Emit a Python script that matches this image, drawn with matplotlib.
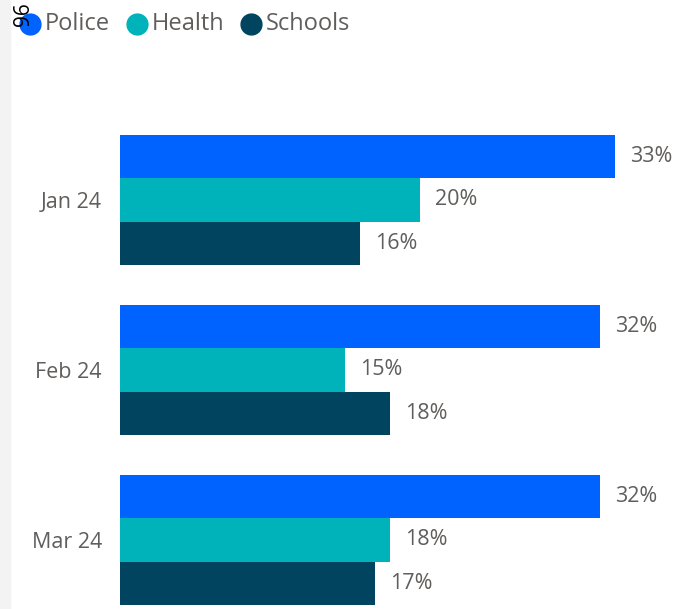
import matplotlib
matplotlib.use("Agg")
import matplotlib.pyplot as plt
import numpy as np
from matplotlib.patches import Rectangle
from matplotlib.lines import Line2D

months = ["Jan 24", "Feb 24", "Mar 24"]
series = ["Police", "Health", "Schools"]
police = [33, 32, 32]
health = [20, 15, 18]
schools = [16, 18, 17]
colors = ["#0062ff", "#00b2b9", "#00445f"]

plt.rcParams["font.family"] = ["Open Sans", "DejaVu Sans"]
text_color = "#605e5c"

W, H = 689, 609
fig = plt.figure(figsize=(W / 100, H / 100), dpi=100)

# light shadow strip on the left edge
fig.add_artist(Rectangle((0, 0), 10 / W, 1, transform=fig.transFigure,
                         color="#f3f3f3", zorder=0))

ax = fig.add_axes([120 / W, 0, 560 / W, 509 / H])
ax.set_xlim(0, 560 / 15)
ax.set_ylim(2.406, -0.588)

bar_h = 0.255
y = np.arange(len(months))
for i, (vals, c) in enumerate(zip([police, health, schools], colors)):
    ypos = y + (i - 1) * bar_h
    ax.barh(ypos, vals, height=bar_h, color=c)
    for yy, v in zip(ypos, vals):
        ax.annotate(f"{v}%", (v, yy), xytext=(11, 0), textcoords="offset points",
                    va="center", ha="left", fontsize=15.5, color=text_color)

ax.set_yticks(y)
ax.set_yticklabels(months, fontsize=15.5, color=text_color)
ax.tick_params(axis="y", length=0, pad=13)
ax.set_xticks([])
for s in ax.spines.values():
    s.set_visible(False)

# legend row
leg_y = 1 - 24 / H
for x_dot, name, c in zip([30, 137, 251], series, colors):
    fig.add_artist(Line2D([x_dot / W], [leg_y], marker="o", markersize=15,
                          color=c, transform=fig.transFigure))
    fig.text((x_dot + 15) / W, leg_y, name, va="center", ha="left",
             fontsize=17, color=text_color)

# axis title squeezed into the top-left corner
fig.text(24 / W, 1 - 2 / H, "96", rotation=90, fontsize=15, color="black",
         ha="center", va="top")

fig.savefig("out.png", dpi=100)
